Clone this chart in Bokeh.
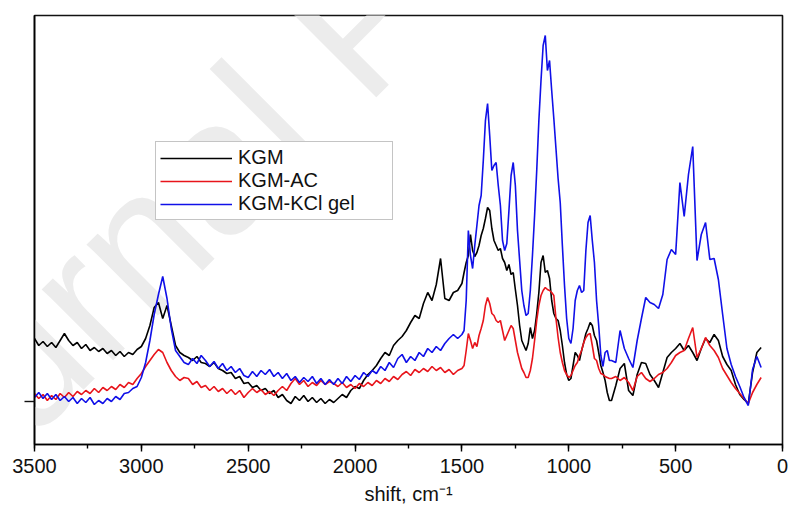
from bokeh.plotting import figure
from bokeh.models import Range1d, SingleIntervalTicker, FixedTicker, Legend, LegendItem, Label
from bokeh.embed import file_html
from bokeh.resources import INLINE

# Raman shift (cm^-1): coarse steps outside the fingerprint band, finer inside it
shift = list(range(3500, 1500, -20)) + list(range(1500, 800, -10)) + list(range(800, 99, -20))

series_names = ["KGM", "KGM-AC", "KGM-KCl gel"]
series_colors = ["#000000", "#e8141b", "#1010e8"]

# intensity (a.u.)
kgm = [
    106, 99, 103, 98, 102, 97, 104, 111, 104, 99, 102, 96, 100, 94, 97, 93, 96, 91, 94, 89,
    93, 88, 92, 90, 95, 98, 106, 119, 137, 142, 126, 139, 119, 99, 92, 89,
    87, 84, 88, 82, 81, 78, 82, 76, 74, 71, 72, 66, 68, 61, 62, 57, 59, 54, 56, 51,
    54, 47, 50, 44, 41, 48, 44, 49, 43, 47, 42, 46, 41, 45, 42,
    46, 50, 47, 54, 58, 56, 64, 70, 74, 79, 86, 92, 89, 99, 104, 108, 114, 122, 129, 126,
    141, 152, 144, 160, 186, 146, 144, 152, 154,
    161, 172, 182, 189, 210, 194, 188, 192, 199, 209,
    216, 226, 237, 234, 216, 204, 199, 194, 196, 186,
    182, 174, 180, 170, 172, 155, 139, 119, 104, 99,
    94, 101, 117, 106, 114, 131, 152, 182, 189, 172,
    174, 166, 144, 131, 126, 124, 114, 99, 82, 70,
    64, 66, 79, 92, 89, 84, 94, 102, 111, 116,
    122, 119, 109, 104, 92, 79, 72, 64, 52, 44,
    44, 59, 76, 81, 54, 49, 70, 82, 81, 70, 64, 57, 72, 87, 92, 96, 101, 94, 99, 92,
    84, 96, 106, 102, 110, 104, 88, 80, 74, 60, 50, 45, 41, 72, 92, 97,
]

kgm_ac = [
    51, 46, 50, 44, 49, 45, 51, 47, 52, 48, 53, 50, 54, 51, 56, 52, 57, 54, 58, 55,
    60, 57, 62, 60, 66, 71, 78, 84, 90, 95, 92, 82, 74, 68, 64, 67,
    66, 60, 63, 57, 59, 54, 58, 53, 56, 51, 55, 50, 54, 47, 52, 56, 52, 55, 50, 53,
    49, 54, 58, 54, 61, 66, 60, 64, 58, 62, 59, 64, 60, 63, 61,
    58, 62, 57, 60, 56, 61, 58, 62, 59, 64, 61, 66, 63, 68, 65, 70, 73, 69, 75, 72,
    76, 73, 78, 74, 77, 72, 75, 70, 74,
    76, 79, 94, 111, 104, 96, 102, 98, 109, 116,
    124, 139, 147, 141, 131, 129, 124, 122, 124, 114,
    104, 109, 114, 119, 116, 104, 92, 84, 76, 72,
    67, 67, 74, 86, 104, 124, 139, 149, 154, 157,
    155, 154, 152, 149, 126, 107, 92, 82, 74, 70,
    67, 69, 74, 79, 82, 89, 94, 102, 107, 110,
    111, 99, 86, 84, 76, 71, 70, 68, 67, 66,
    66, 68, 64, 67, 62, 54, 68, 72, 66, 63, 66, 70, 72, 76, 82, 89, 92, 94, 106, 117,
    87, 96, 107, 99, 94, 87, 76, 69, 62, 56, 51, 46, 41, 52, 60, 67,
]

kgm_kcl_gel = [
    47, 52, 46, 51, 45, 50, 44, 48, 43, 47, 41, 46, 42, 47, 40, 44, 41, 46, 43, 48,
    45, 51, 52, 56, 58, 67, 82, 104, 130, 150, 168, 146, 116, 94, 88, 82,
    80, 86, 81, 89, 84, 78, 83, 76, 81, 74, 78, 72, 76, 69, 67, 73, 68, 74, 70, 75,
    68, 72, 66, 71, 64, 68, 62, 67, 63, 68, 61, 66, 60, 65, 60,
    66, 61, 68, 63, 69, 65, 72, 68, 74, 71, 78, 74, 82, 77, 86, 90, 82, 88, 84, 92,
    88, 96, 92, 98, 94, 101, 106, 110, 106,
    110, 114, 144, 214, 189, 176, 199, 219, 239, 249,
    284, 324, 341, 309, 274, 279, 282, 259, 239, 204,
    194, 201, 234, 269, 282, 259, 214, 184, 154, 139,
    129, 131, 154, 189, 229, 274, 324, 364, 399, 409,
    374, 384, 354, 326, 296, 266, 242, 199, 159, 126,
    106, 101, 116, 144, 154, 159, 152, 154, 194, 222,
    229, 204, 182, 144, 119, 89, 78, 92, 94, 84,
    84, 82, 114, 96, 86, 77, 104, 126, 147, 142, 140, 136, 150, 185, 195, 190, 262, 228, 270, 298,
    184, 210, 222, 185, 186, 165, 130, 96, 80, 68, 58, 47, 39, 75, 88, 77,
]

y_tick = [43]
x_label = "shift, cm\u207b\u00b9"
watermark = "Journal Pre-proof"

FONT = "Liberation Sans"

p = figure(width=788, height=508, output_backend="svg", toolbar_location=None,
           x_range=Range1d(3500, 0), y_range=Range1d(0, 429),
           min_border_left=34, min_border_right=6, min_border_top=15, min_border_bottom=64)
p.background_fill_color = "white"
p.border_fill_color = "white"
p.xgrid.visible = False
p.ygrid.visible = False
p.outline_line_color = "#111111"
p.outline_line_width = 1.6
p.outline_line_alpha = 1.0

wm = Label(x=-119, y=-170, x_units="screen", y_units="screen", text=watermark,
           angle=45, angle_units="deg", text_font=FONT, text_font_size="190px",
           text_color="#ececec", level="underlay")
p.add_layout(wm)

renderers = []
for name, ys, col in zip(series_names, [kgm, kgm_ac, kgm_kcl_gel], series_colors):
    r = p.line(shift, ys, line_color=col, line_width=1.6)
    renderers.append(r)

xa = p.xaxis[0]
xa.ticker = SingleIntervalTicker(interval=500, num_minor_ticks=2)
xa.major_tick_in = 0
xa.major_tick_out = 7
xa.minor_tick_in = 0
xa.minor_tick_out = 4
xa.axis_line_width = 1.6
xa.major_tick_line_width = 1.4
xa.minor_tick_line_width = 1.4
xa.major_label_text_font = FONT
xa.major_label_text_font_size = "20px"
xa.major_label_text_color = "#111111"
xa.major_label_standoff = 7
xa.axis_label = x_label
xa.axis_label_text_font = FONT
xa.axis_label_text_font_size = "20px"
xa.axis_label_text_font_style = "normal"
xa.axis_label_text_color = "#111111"
xa.axis_label_standoff = 7

ya = p.yaxis[0]
ya.ticker = FixedTicker(ticks=[], minor_ticks=y_tick)
ya.major_tick_in = 0
ya.major_tick_out = 0
ya.minor_tick_out = 10
ya.minor_tick_in = 0
ya.axis_line_width = 1.6
ya.minor_tick_line_width = 1.4
ya.minor_tick_line_color = "#111111"

legend = Legend(items=[LegendItem(label=n, renderers=[r]) for n, r in zip(series_names, renderers)],
                location=(121, 224))
legend.label_text_font = FONT
legend.label_text_font_size = "20px"
legend.label_text_color = "#111111"
legend.padding = 4
legend.spacing = 0
legend.label_height = 20
legend.glyph_height = 20
legend.glyph_width = 72
legend.label_standoff = 6
legend.label_width = 150
legend.border_line_color = "#8a8a8a"
legend.border_line_width = 1.5
legend.background_fill_alpha = 1.0
legend.margin = 0
p.add_layout(legend, "center")

open("out.html", "w").write(file_html(p, INLINE))
